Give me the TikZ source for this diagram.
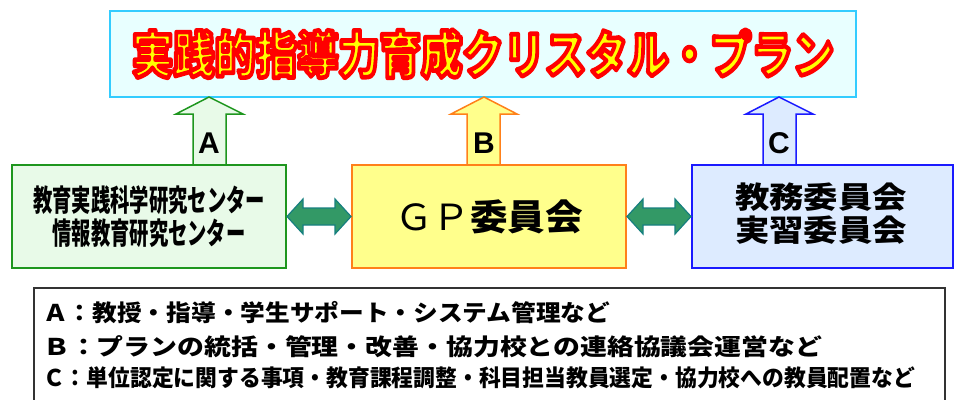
\documentclass[tikz,border=0pt]{standalone}
\usepackage{fontspec}
\usepackage{graphicx}
\usetikzlibrary{calc}
\newfontfamily\jp{Noto Sans CJK JP}
\newfontfamily\lat{Liberation Sans}
\newcommand\outlinedtext[1]{\special{pdf:code q 2 Tr 4.6 w 1 j 1 J 1 0 0 RG 1 1 0 rg}#1\special{pdf:code Q}}
\definecolor{titled}{HTML}{33CCFF}
\definecolor{titlef}{HTML}{E8FFFF}
\definecolor{gd}{HTML}{1E961E}
\definecolor{gf}{HTML}{E8FAE8}
\definecolor{od}{HTML}{FF801A}
\definecolor{of}{HTML}{FFFF8C}
\definecolor{bd}{HTML}{1A1AFF}
\definecolor{bf}{HTML}{DDEBFF}
\definecolor{dblf}{HTML}{339966}
\definecolor{dbld}{HTML}{167F7F}
\definecolor{legd}{HTML}{333333}
\begin{document}
\begin{tikzpicture}[x=1pt,y=-1pt,
  box/.style={draw, line width=2pt, inner sep=0pt, minimum height=103},
  uparr/.style={line width=1.5pt, line join=miter},
  dbl/.style={fill=dblf, draw=dbld, line width=1.2pt, line join=miter},
  letter/.style={font=\lat\bfseries\fontsize{30}{30}\selectfont, inner sep=0pt},
  legtext/.style={anchor=west, inner sep=0pt, font=\jp\bfseries\fontsize{23}{23}\selectfont}]
\useasboundingbox (0,0) rectangle (955,399);
% title
\node[draw=titled, fill=titlef, line width=2pt, inner sep=0pt, minimum width=746, minimum height=86] (title) at (483,54) {};
\node[inner sep=0pt] (titletext) at (483,54) {\jp\bfseries\fontsize{50}{50}\selectfont\resizebox{702pt}{\height}{\outlinedtext{実践的指導力育成クリスタル・プラン}}};
% up arrows
\draw[uparr, draw=gd, fill=gf] (209,97) -- (243,114) -- (226,114) -- (226,165) -- (193,165) -- (193,114) -- (176,114) -- cycle;
\draw[uparr, draw=od, fill=of] (484,97) -- (517,114) -- (500,114) -- (500,165) -- (467,165) -- (467,114) -- (451,114) -- cycle;
\draw[uparr, draw=bd, fill=bf] (779,97) -- (813,114) -- (796,114) -- (796,165) -- (763,165) -- (763,114) -- (746,114) -- cycle;
\node[letter] (la) at (209,143) {A};
\node[letter] (lb) at (484,143) {B};
\node[letter] (lc) at (779,143) {C};
% boxes
\node[box, draw=gd, fill=gf, minimum width=274] (left) at (149,216.5) {};
\node[box, draw=od, fill=of, minimum width=274] (gp) at (489,216.5) {};
\node[box, draw=bd, fill=bf, minimum width=261] (cbox) at (822.5,216.5) {};
\node[inner sep=0pt, align=center, font=\jp\bfseries\fontsize{30}{33}\selectfont] (lefttext) at (149,216.5)
  {\resizebox{232pt}{\height}{教育実践科学研究センター}\\\resizebox{193pt}{\height}{情報教育研究センター}};
\node[inner sep=0pt, font=\jp\fontsize{36}{36}\selectfont] (gptext) at (489,217)
  {\resizebox{188pt}{\height}{ＧＰ\bfseries 委員会}};
\node[inner sep=0pt, align=center, font=\jp\bfseries\fontsize{30}{33}\selectfont] (ctext) at (821,213.5)
  {\resizebox{172pt}{\height}{教務委員会}\\\resizebox{172pt}{\height}{実習委員会}};
% double arrows
\draw[dbl] (left.east) -- ++(16,-17.5) -- ++(0,9) -- ($(gp.west)+(-16,-8.5)$) -- ++(0,-9) -- (gp.west)
  -- ++(-16,17.5) -- ++(0,-9) -- ($(left.east)+(16,8.5)$) -- ++(0,9) -- cycle;
\draw[dbl] (gp.east) -- ++(16,-17.5) -- ++(0,9) -- ($(cbox.west)+(-16,-8.5)$) -- ++(0,-9) -- (cbox.west)
  -- ++(-16,17.5) -- ++(0,-9) -- ($(gp.east)+(16,8.5)$) -- ++(0,9) -- cycle;
% legend
\node[draw=legd, line width=1.5pt, anchor=north west, inner sep=0pt, minimum width=911, minimum height=130] (legend) at (33,287) {};
\node[legtext] (la1) at (43,313) {\resizebox{567pt}{\height}{Ａ：教授・指導・学生サポート・システム管理など}};
\node[legtext] (lb1) at (43,347) {\resizebox{779pt}{\height}{Ｂ：プランの統括・管理・改善・協力校との連絡協議会運営など}};
\node[legtext] (lc1) at (43,378) {\resizebox{872pt}{\height}{Ｃ：単位認定に関する事項・教育課程調整・科目担当教員選定・協力校への教員配置など}};
\end{tikzpicture}
\end{document}
